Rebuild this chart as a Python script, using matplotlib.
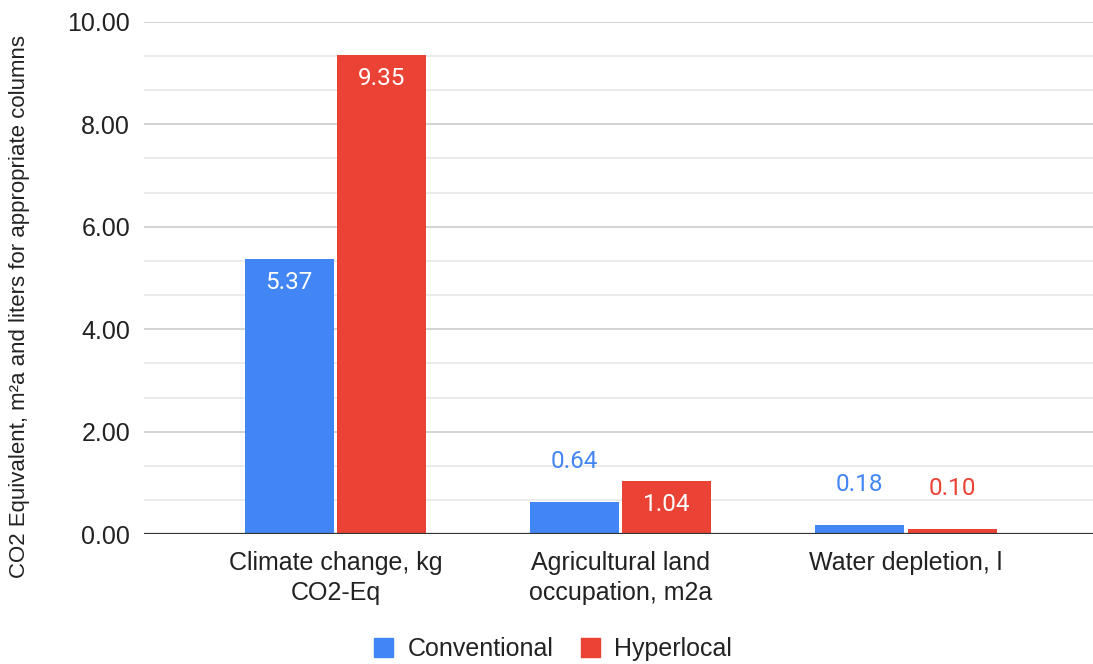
import numpy as np
import matplotlib.pyplot as plt
from matplotlib.patches import Patch
from matplotlib.ticker import MultipleLocator, FormatStrFormatter

categories = ["Climate change, kg\nCO2-Eq", "Agricultural land\noccupation, m2a", "Water depletion, l"]
conventional = [5.37, 0.64, 0.18]
hyperlocal = [9.35, 1.04, 0.10]
# labels that sit inside the bar (True) or above it (False)
conv_inside = [True, False, False]
hyper_inside = [True, True, False]

BLUE = "#4285F4"
RED = "#EA4335"

plt.rcParams["font.family"] = ["Liberation Sans", "DejaVu Sans"]

fig = plt.figure(figsize=(10.93, 6.64), dpi=100)
ax = fig.add_axes([0.1317, 0.1953, 0.8683, 0.772])

x = np.arange(len(categories))
w = 0.312
off = 0.162
b1 = ax.bar(x - off, conventional, w, color=BLUE, zorder=3)
b2 = ax.bar(x + off, hyperlocal, w, color=RED, zorder=3)

def add_labels(bars, vals, inside, color):
    for bar, v, ins in zip(bars, vals, inside):
        cx = bar.get_x() + bar.get_width() / 2
        if ins:
            ax.annotate(f"{v:.2f}", (cx, v), xytext=(0, -17), textcoords="offset points",
                        ha="center", va="center", color="white", fontsize=17.5,
                        family=["Roboto", "DejaVu Sans"], zorder=4)
        else:
            ax.annotate(f"{v:.2f}", (cx, v), xytext=(0, 29), textcoords="offset points",
                        ha="center", va="center", color=color, fontsize=17.5,
                        family=["Roboto", "DejaVu Sans"], zorder=4)

add_labels(b1, conventional, conv_inside, BLUE)
add_labels(b2, hyperlocal, hyper_inside, RED)

ax.set_xlim(-0.671, 2.656)
ax.set_ylim(0, 10)
ax.yaxis.set_major_locator(MultipleLocator(2))
ax.yaxis.set_minor_locator(MultipleLocator(2 / 3))
ax.yaxis.set_major_formatter(FormatStrFormatter("%.2f"))
ax.grid(axis="y", which="major", color="#cccccc", lw=1.2, zorder=0)
ax.grid(axis="y", which="minor", color="#e8e8e8", lw=1.2, zorder=0)
ax.axhline(0, color="#333333", lw=1.6, zorder=5)

ax.set_xticks(x)
ax.set_xticklabels(categories, fontsize=18, color="#222222", linespacing=1.3)
ax.tick_params(axis="x", length=0, pad=12)
ax.tick_params(axis="y", which="both", length=0, pad=10, labelsize=18, labelcolor="#222222")
for s in ax.spines.values():
    s.set_visible(False)

fig.text(20 / 1093, 1 - 306 / 664, "CO2 Equivalent, m²a and liters for appropriate columns",
         rotation=90, ha="center", va="center", fontsize=16, color="#222222")

handles = [Patch(color=BLUE, label="Conventional"), Patch(color=RED, label="Hyperlocal")]
fig.legend(handles=handles, loc="center", bbox_to_anchor=(553 / 1093, 1 - 649 / 664),
           ncol=2, frameon=False, fontsize=18, handlelength=0.76, handleheight=0.76,
           handletextpad=0.56, columnspacing=1.1, labelcolor="#222222")

fig.savefig("out.png", dpi=100)
